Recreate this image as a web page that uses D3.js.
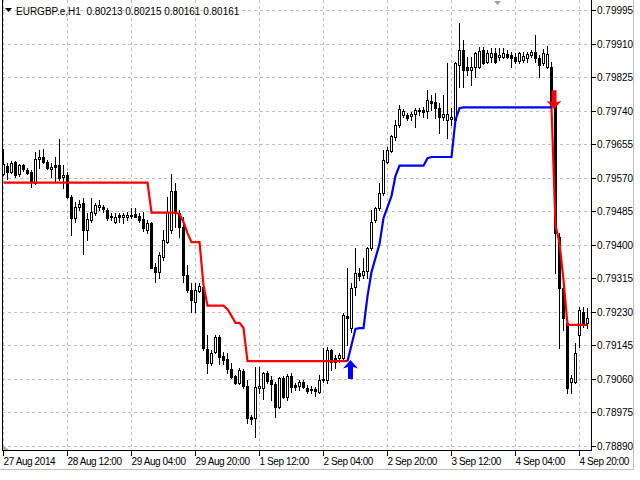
<!DOCTYPE html>
<html><head><meta charset="utf-8">
<script src="https://cdn.jsdelivr.net/npm/d3@7"></script>
<style>
body{margin:0;background:#fff}
svg{display:block}
text{font-family:"Liberation Sans",Arial,sans-serif;font-size:10px;fill:#000}
</style>
</head><body><svg id="c" width="640" height="480"></svg>
<script>
const symbolTitle = "EURGBP.e,H1";
const quoteValues = ["0.80213","0.80215","0.80161","0.80161"];

const opens = [0.79579,0.79599,0.79584,0.79609,0.79579,0.79602,0.79589,0.79584,0.79556,0.79617,
0.79622,0.79609,0.79592,0.79602,0.79602,0.79571,0.79576,0.79521,0.79467,0.79495,
0.79505,0.79437,0.79462,0.79480,0.79495,0.79495,0.79488,0.79472,0.79457,0.79475,
0.79470,0.79470,0.79472,0.79477,0.79472,0.79465,0.79437,0.79455,0.79343,0.79330,
0.79368,0.79406,0.79437,0.79536,0.79480,0.79444,0.79323,0.79285,0.79254,0.79282,
0.79292,0.79135,0.79099,0.79127,0.79165,0.79117,0.79109,0.79084,0.79066,0.79049,
0.79079,0.79041,0.78962,0.78960,0.79036,0.79036,0.79074,0.79056,0.79046,0.78988,
0.79061,0.79013,0.79066,0.79044,0.79041,0.79051,0.79036,0.79033,0.79033,0.79026,
0.79056,0.79056,0.79132,0.79112,0.79112,0.79112,0.79219,0.79188,0.79292,0.79328,
0.79323,0.79333,0.79391,0.79462,0.79493,0.79531,0.79609,0.79637,0.79673,0.79703,
0.79729,0.79729,0.79726,0.79731,0.79741,0.79741,0.79739,0.79764,0.79762,0.79746,
0.79724,0.79716,0.79718,0.79716,0.79855,0.79894,0.79850,0.79843,0.79850,0.79850,
0.79894,0.79863,0.79876,0.79886,0.79876,0.79876,0.79883,0.79881,0.79876,0.79866,
0.79868,0.79873,0.79881,0.79888,0.79873,0.79861,0.79850,0.79850,0.79751,0.79419,
0.79290,0.79201,0.79051,0.79051,0.79170,0.79229,0.79201];

const highs = [0.79642,0.79607,0.79612,0.79612,0.79604,0.79604,0.79594,0.79589,0.79635,0.79640,
0.79642,0.79614,0.79607,0.79622,0.79668,0.79602,0.79584,0.79526,0.79508,0.79513,
0.79518,0.79480,0.79518,0.79505,0.79513,0.79500,0.79493,0.79480,0.79480,0.79480,
0.79480,0.79482,0.79493,0.79493,0.79480,0.79482,0.79462,0.79457,0.79353,0.79381,
0.79437,0.79521,0.79579,0.79556,0.79488,0.79470,0.79348,0.79302,0.79302,0.79302,
0.79302,0.79170,0.79132,0.79170,0.79170,0.79127,0.79125,0.79099,0.79069,0.79087,
0.79084,0.79056,0.78967,0.79089,0.79089,0.79076,0.79079,0.79066,0.79051,0.79064,
0.79066,0.79071,0.79074,0.79049,0.79056,0.79056,0.79044,0.79041,0.79038,0.79069,
0.79137,0.79140,0.79135,0.79120,0.79125,0.79226,0.79340,0.79302,0.79391,0.79340,
0.79366,0.79394,0.79488,0.79495,0.79556,0.79640,0.79647,0.79678,0.79716,0.79754,
0.79744,0.79734,0.79736,0.79746,0.79746,0.79749,0.79792,0.79779,0.79784,0.79759,
0.79779,0.79861,0.79746,0.79863,0.79962,0.79919,0.79876,0.79876,0.79888,0.79901,
0.79901,0.79894,0.79899,0.79899,0.79899,0.79899,0.79894,0.79888,0.79886,0.79888,
0.79888,0.79888,0.79894,0.79932,0.79881,0.79896,0.79904,0.79863,0.79779,0.79429,
0.79297,0.79208,0.79069,0.79150,0.79241,0.79241,0.79239];

const lows = [0.79576,0.79566,0.79581,0.79571,0.79574,0.79586,0.79579,0.79546,0.79554,0.79594,
0.79607,0.79592,0.79571,0.79559,0.79564,0.79543,0.79518,0.79424,0.79457,0.79488,
0.79376,0.79411,0.79457,0.79475,0.79488,0.79482,0.79462,0.79462,0.79455,0.79457,
0.79455,0.79462,0.79467,0.79470,0.79457,0.79434,0.79429,0.79340,0.79305,0.79315,
0.79361,0.79404,0.79429,0.79444,0.79419,0.79305,0.79279,0.79229,0.79229,0.79279,
0.79132,0.79074,0.79094,0.79125,0.79097,0.79097,0.79074,0.79061,0.79046,0.79046,
0.79036,0.78947,0.78945,0.78912,0.79023,0.79008,0.79049,0.79005,0.78962,0.78985,
0.79011,0.79005,0.79026,0.79031,0.79031,0.79036,0.79023,0.79023,0.79016,0.79023,
0.79051,0.79049,0.79082,0.79087,0.79102,0.79107,0.79145,0.79178,0.79272,0.79310,
0.79315,0.79315,0.79386,0.79457,0.79488,0.79526,0.79607,0.79635,0.79665,0.79698,
0.79724,0.79716,0.79716,0.79698,0.79729,0.79724,0.79721,0.79741,0.79721,0.79683,
0.79716,0.79670,0.79703,0.79711,0.79800,0.79800,0.79830,0.79805,0.79825,0.79848,
0.79858,0.79861,0.79863,0.79861,0.79868,0.79873,0.79873,0.79850,0.79861,0.79861,
0.79863,0.79863,0.79876,0.79863,0.79825,0.79855,0.79848,0.79741,0.79328,0.79137,
0.79183,0.79023,0.79023,0.79049,0.79140,0.79191,0.79188];

const closes = [0.79604,0.79584,0.79607,0.79576,0.79602,0.79592,0.79581,0.79559,0.79617,0.79622,
0.79609,0.79594,0.79597,0.79597,0.79569,0.79576,0.79521,0.79467,0.79495,0.79503,
0.79437,0.79465,0.79482,0.79500,0.79500,0.79490,0.79467,0.79470,0.79470,0.79470,
0.79475,0.79475,0.79475,0.79470,0.79462,0.79442,0.79455,0.79340,0.79330,0.79373,
0.79411,0.79482,0.79536,0.79480,0.79444,0.79323,0.79285,0.79259,0.79285,0.79295,
0.79137,0.79099,0.79125,0.79165,0.79115,0.79107,0.79084,0.79064,0.79049,0.79082,
0.79041,0.78960,0.78957,0.79038,0.79041,0.79074,0.79054,0.79046,0.78988,0.79061,
0.79013,0.79066,0.79038,0.79038,0.79051,0.79038,0.79028,0.79031,0.79028,0.79056,
0.79059,0.79132,0.79102,0.79102,0.79120,0.79221,0.79214,0.79290,0.79328,0.79320,
0.79333,0.79391,0.79457,0.79493,0.79531,0.79614,0.79640,0.79675,0.79703,0.79744,
0.79739,0.79721,0.79731,0.79741,0.79739,0.79736,0.79767,0.79759,0.79746,0.79724,
0.79731,0.79731,0.79724,0.79861,0.79894,0.79843,0.79843,0.79850,0.79886,0.79891,
0.79861,0.79886,0.79886,0.79863,0.79881,0.79886,0.79876,0.79873,0.79866,0.79886,
0.79878,0.79883,0.79888,0.79873,0.79855,0.79886,0.79883,0.79751,0.79429,0.79290,
0.79214,0.79036,0.79061,0.79125,0.79234,0.79201,0.79214];

const redStop = [0.79557,0.79557,0.79557,0.79557,0.79557,0.79557,0.79557,0.79557,0.79557,0.79557,
0.79557,0.79557,0.79557,0.79557,0.79557,0.79557,0.79557,0.79557,0.79557,0.79557,
0.79557,0.79557,0.79557,0.79557,0.79557,0.79557,0.79557,0.79557,0.79557,0.79557,
0.79557,0.79557,0.79557,0.79557,0.79557,0.79557,0.79557,0.79481,0.79481,0.79481,
0.79481,0.79481,0.79481,0.79481,0.79477,0.79457,0.79429,0.79406,0.79406,0.79406,
0.79297,0.79245,0.79245,0.79245,0.79245,0.79245,0.79236,0.79219,0.79201,0.79201,
0.79188,0.79104,0.79104,0.79104,0.79104,0.79104,0.79104,0.79104,0.79104,0.79104,
0.79104,0.79104,0.79104,0.79104,0.79104,0.79104,0.79104,0.79104,0.79104,0.79104,
0.79104,0.79104,0.79104,0.79104,0.79104,0.79104,0.79104,null,null,null,
null,null,null,null,null,null,null,null,null,null,
null,null,null,null,null,null,null,null,null,null,
null,null,null,null,null,null,null,null,null,null,
null,null,null,null,null,null,null,null,null,null,
null,null,null,null,null,null,null,0.79748,0.79449,0.79404,
0.79310,0.79196,0.79196,0.79196,0.79196,0.79196,0.79196];

const blueStop = [null,null,null,null,null,null,null,null,null,null,
null,null,null,null,null,null,null,null,null,null,
null,null,null,null,null,null,null,null,null,null,
null,null,null,null,null,null,null,null,null,null,
null,null,null,null,null,null,null,null,null,null,
null,null,null,null,null,null,null,null,null,null,
null,null,null,null,null,null,null,null,null,null,
null,null,null,null,null,null,null,null,null,null,
null,null,null,null,null,null,0.79104,0.79145,0.79186,0.79188,
0.79188,0.79269,0.79330,0.79366,0.79401,0.79467,0.79495,0.79523,0.79574,0.79600,
0.79600,0.79600,0.79600,0.79600,0.79600,0.79600,0.79619,0.79622,0.79622,0.79622,
0.79622,0.79622,0.79622,0.79716,0.79746,0.79748,0.79748,0.79748,0.79748,0.79748,
0.79748,0.79748,0.79748,0.79748,0.79748,0.79748,0.79748,0.79748,0.79748,0.79748,
0.79748,0.79748,0.79748,0.79748,0.79748,0.79748,0.79748,0.79748,null,null,
null,null,null,null,null,null,null];

const buySignal = {bar: 87, price: 0.79107};
const sellSignal = {bar: 138, price: 0.79746};

const priceTicks = [0.79995,0.79910,0.79825,0.79740,0.79655,0.79570,0.79485,0.79400,0.79315,0.79230,0.79145,0.79060,0.78975,0.78890];
const timeTickLabels = ["27 Aug 2014","28 Aug 12:00","29 Aug 04:00","29 Aug 20:00","1 Sep 12:00","2 Sep 04:00","2 Sep 20:00","3 Sep 12:00","4 Sep 04:00","4 Sep 20:00"];
const timeTickBars = [0,16,32,48,64,80,96,112,128,144];

const svg = d3.select("#c");
const L = 2, R = 592, T = 0, B = 450;
const x = d3.scaleLinear().domain([0, 147.25]).range([3, 592]);
const y = d3.scaleLinear().domain([0.78890, 0.79995]).range([445.5, 10]);
const px = i => Math.round(x(i));
const py = v => Math.round(y(v));

// outer window frame
svg.append("line").attr("x1",0).attr("x2",634).attr("y1",469.5).attr("y2",469.5).attr("stroke","#c0c0c0");
svg.append("line").attr("x1",633.5).attr("x2",633.5).attr("y1",0).attr("y2",470).attr("stroke","#c0c0c0");

// grid
const grid = svg.append("g").attr("stroke","#c0c0c0").attr("stroke-dasharray","3,3");
priceTicks.forEach(t => {
  const yy = py(t) + 0.5;
  grid.append("line").attr("x1",L).attr("x2",R).attr("y1",yy).attr("y2",yy);
});
timeTickBars.forEach(b => {
  const xx = px(b) + 0.5;
  grid.append("line").attr("x1",xx).attr("x2",xx).attr("y1",T).attr("y2",B);
});

// candles
const cg = svg.append("g");
opens.forEach((o, i) => {
  const c = closes[i], h = highs[i], l = lows[i];
  const cx = px(i);
  cg.append("line").attr("x1",cx+0.5).attr("x2",cx+0.5)
    .attr("y1",py(h)).attr("y2",py(l)+1).attr("stroke","#000");
  const top = py(Math.max(o,c)), bot = py(Math.min(o,c));
  if (c >= o) {
    cg.append("rect").attr("x",cx-0.5).attr("y",top+0.5)
      .attr("width",2).attr("height",Math.max(bot-top,0.01))
      .attr("fill","#fff").attr("stroke","#000");
  } else {
    cg.append("rect").attr("x",cx-1).attr("y",top)
      .attr("width",3).attr("height",Math.max(bot-top+1,1))
      .attr("fill","#000");
  }
});

// trailing lines
const line = d3.line().defined(d => d != null).x((d,i) => px(i)+0.5).y(d => y(d));
svg.append("path").datum(redStop).attr("d",line).attr("fill","none").attr("stroke","#ff0000").attr("stroke-width",2.2);
svg.append("path").datum(blueStop).attr("d",line).attr("fill","none").attr("stroke","#0000ff").attr("stroke-width",2.2);

// arrows
function arrowPath(cx, ty, dir){ // dir=1 up (tip at top), -1 down (tip at bottom)
  const p = [[0,0],[7.5,8.5],[2.5,7],[2.5,19],[-2.5,19],[-2.5,7],[-7.5,8.5]];
  return "M" + p.map(q => [cx + q[0], ty + dir*q[1]].join(",")).join("L") + "Z";
}
svg.append("path").attr("d", arrowPath(px(buySignal.bar)-0.5, y(buySignal.price), 1)).attr("fill","#0000ff");
svg.append("path").attr("d", arrowPath(px(sellSignal.bar)-1, y(sellSignal.price)+1, -1)).attr("fill","#ff0000");

// frame
svg.append("line").attr("x1",L+0.5).attr("x2",L+0.5).attr("y1",T).attr("y2",B+1).attr("stroke","#000");
svg.append("line").attr("x1",R-0.5).attr("x2",R-0.5).attr("y1",T).attr("y2",B+1).attr("stroke","#000");
svg.append("line").attr("x1",L).attr("x2",R).attr("y1",B+0.5).attr("y2",B+0.5).attr("stroke","#000");

// markers
svg.append("path").attr("d","M494,1L501,1L497.5,5Z").attr("fill","#a0a0a0");
svg.append("path").attr("d","M3,445L3,450L9,450Z").attr("fill","#b0b0b0");

// y axis
const ya = svg.append("g");
priceTicks.forEach(t => {
  const yy = py(t) + 0.5;
  ya.append("line").attr("x1",R).attr("x2",R+4).attr("y1",yy).attr("y2",yy).attr("stroke","#000");
  ya.append("text").attr("x",R+5).attr("y",yy+3.5).text(t.toFixed(5));
});

// x axis
const xa = svg.append("g");
timeTickBars.forEach((b, k) => {
  const xx = px(b) + 0.5;
  xa.append("line").attr("x1",xx).attr("x2",xx).attr("y1",B).attr("y2",B+6).attr("stroke","#000");
  xa.append("text").attr("x",xx).attr("y",465).style("letter-spacing","-0.4px").text(timeTickLabels[k]);
});

// header
svg.append("path").attr("d","M5,8L12,8L8.5,12Z").attr("fill","#000");
svg.append("text").attr("x",16).attr("y",15).style("white-space","pre")
  .text(symbolTitle + "  " + quoteValues.join(" "));
</script>
</body></html>
